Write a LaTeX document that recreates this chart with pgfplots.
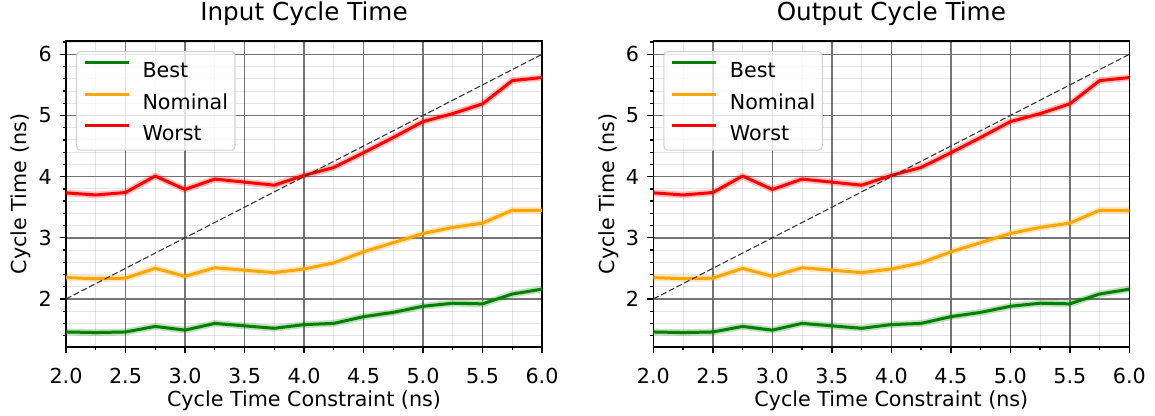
\documentclass[border=0pt]{standalone}
\usepackage{fontspec}
\setmainfont{DejaVu Sans}
\usepackage{pgfplots}
\usepackage{pgfplotstable}
\pgfplotsset{compat=1.18}
\definecolor{mgreen}{HTML}{008000}
\definecolor{morange}{HTML}{FFA500}
\definecolor{mred}{HTML}{FF0000}
\definecolor{majgrid}{HTML}{747474}

\pgfplotstableread{
x     best  nominal worst
2.00  1.46  2.35   3.735
2.25  1.45  2.33   3.70
2.50  1.46  2.34   3.74
2.75  1.55  2.50   4.01
3.00  1.49  2.37   3.79
3.25  1.60  2.51   3.96
3.50  1.56  2.47   3.91
3.75  1.52  2.43   3.86
4.00  1.58  2.49   4.02
4.25  1.60  2.59   4.15
4.50  1.71  2.77   4.39
4.75  1.78  2.92   4.64
5.00  1.88  3.07   4.90
5.25  1.93  3.17   5.03
5.50  1.92  3.24   5.19
5.75  2.08  3.45   5.57
6.00  2.16  3.45   5.62
}\cycledata

\pgfplotsset{
  panel/.style={
    scale only axis, width=357pt, height=229.5pt, anchor=south west,
    xmin=2, xmax=6, ymin=1.214, ymax=6.218,
    xtick={2,2.5,3,3.5,4,4.5,5,5.5,6},
    minor xtick={2.25,2.75,3.25,3.75,4.25,4.75,5.25,5.75},
    ytick={2,3,4,5,6},
    minor ytick={1.4,1.6,1.8,2.2,2.4,2.6,2.8,3.2,3.4,3.6,3.8,4.2,4.4,4.6,4.8,5.2,5.4,5.6,5.8,6.2},
    grid=both,
    major grid style={line width=1.1pt, draw=majgrid},
    minor grid style={line width=0.75pt, draw=black, draw opacity=0.1},
    tick align=outside, tick pos=left,
    major tick length=4.5pt, minor tick length=2.6pt,
    every tick/.style={black, line width=1.0pt},
    axis line style={line width=1.1pt, black},
    /pgf/number format/assume math mode=true,
    xticklabel style={/pgf/number format/fixed, /pgf/number format/fixed zerofill, /pgf/number format/precision=1},
    xticklabel style={font=\fontsize{15.5}{18}\selectfont, anchor=north, inner sep=0pt, yshift=-11.5pt},
    yticklabel style={font=\fontsize{15.5}{18}\selectfont, anchor=east, inner sep=0pt, xshift=-6pt},
    xlabel={Cycle Time Constraint (ns)},
    ylabel={Cycle Time (ns)},
    xlabel style={font=\fontsize{15.5}{18}\selectfont, at={(axis description cs:0.5,0)}, anchor=base, yshift=-44.25pt},
    ylabel style={font=\fontsize{15.5}{18}\selectfont, at={(axis description cs:-0.0945,0.5)}, anchor=center},
    title style={font=\fontsize{18.5}{22}\selectfont, at={(axis description cs:0.5,1)}, anchor=base, yshift=9.75pt},
    legend cell align=left,
    legend style={at={(axis description cs:0.021,0.967)}, anchor=north west,
      draw=black!18, fill=white, fill opacity=0.8, draw opacity=1, text opacity=1,
      rounded corners=3pt, line width=0.8pt,
      inner xsep=5.25pt, inner ysep=7.2pt, row sep=11.2pt, column sep=9pt,
      font=\fontsize{15.5}{18}\selectfont,
      nodes={inner sep=0pt, text height=11.3pt, text depth=0pt}},
    legend image code/.code={\draw[#1, line width=2.25pt] (0pt,5.6pt) -- (33pt,5.6pt);},
    band/.style={line width=5pt, opacity=0.25, forget plot, line join=round},
    main/.style={line width=2.25pt, line join=round},
  }
}

\newcommand\panelplots{%
  \addplot[band, mgreen] table[x=x,y=best]{\cycledata};
  \addplot[band, morange] table[x=x,y=nominal]{\cycledata};
  \addplot[band, mred] table[x=x,y=worst]{\cycledata};
  \addplot[main, mgreen] table[x=x,y=best]{\cycledata};
  \addlegendentry{Best}
  \addplot[main, morange] table[x=x,y=nominal]{\cycledata};
  \addlegendentry{Nominal}
  \addplot[main, mred] table[x=x,y=worst]{\cycledata};
  \addlegendentry{Worst}
  \addplot[forget plot, black!80, line width=0.8pt, dash pattern=on 4.5pt off 2pt] coordinates {(2,2) (6,6)};
}

\begin{document}
\begin{tikzpicture}
\useasboundingbox (-49.5pt,-51pt) rectangle (816.75pt,260.25pt);
\begin{axis}[panel, at={(0pt,0pt)}, title={Input Cycle Time}]
\panelplots
\end{axis}
\begin{axis}[panel, at={(440.5pt,0pt)}, title={Output Cycle Time}]
\panelplots
\end{axis}
\end{tikzpicture}
\end{document}
